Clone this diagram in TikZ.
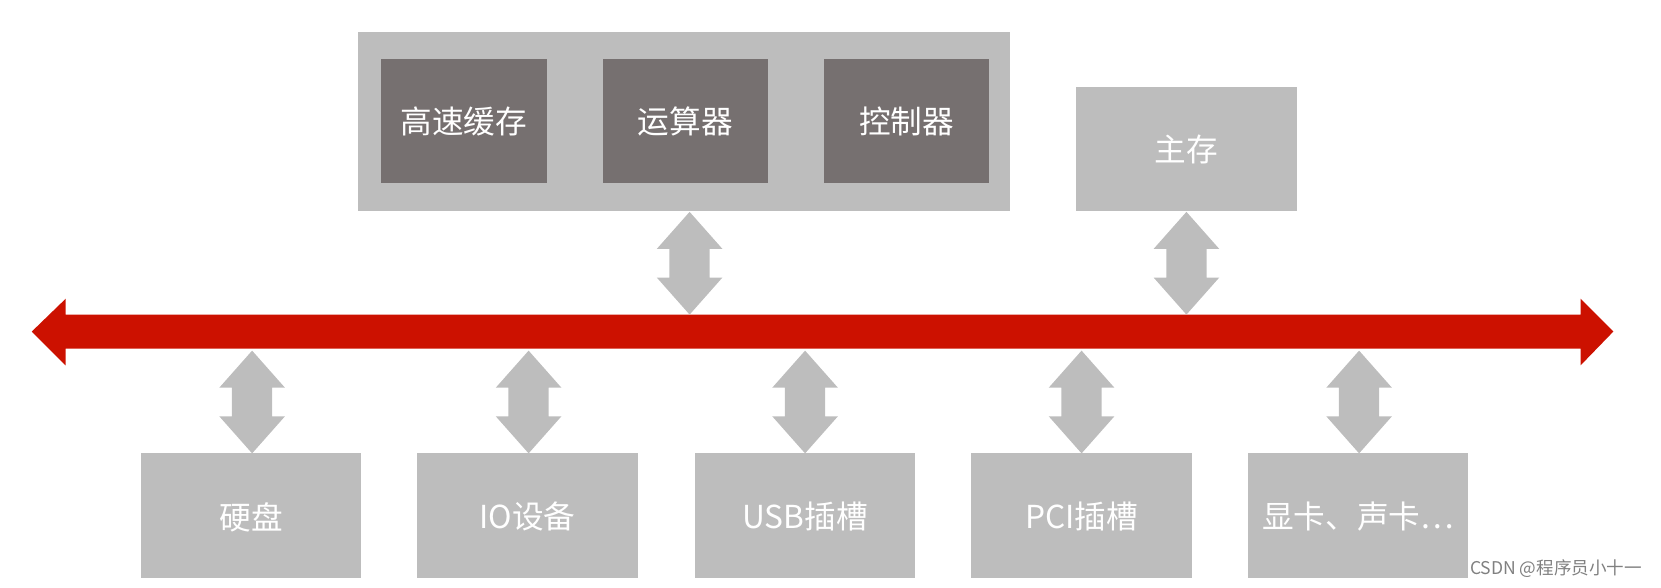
\documentclass[tikz,border=0pt]{standalone}
\usepackage{fontspec}
\setmainfont{Noto Sans CJK SC}
\begin{document}
\begin{tikzpicture}[x=0.021186cm,y=-0.021186cm,
  lg/.style={fill=boxgray,draw=none},
  dg/.style={fill=darkgray2,draw=none},
  txt/.style={text=white,font=\fontsize{18}{21}\selectfont},
  dbl/.pic={\fill[boxgray] (0,0) -- (31,35) -- (19,35) -- (19,62) -- (31,62) -- (0,97) -- (-31,62) -- (-19,62) -- (-19,35) -- (-31,35) -- cycle;}]
\definecolor{boxgray}{HTML}{BDBDBD}
\definecolor{darkgray2}{HTML}{767070}
\definecolor{busred}{HTML}{CC1100}
% CPU
\fill[lg] (338,30) rectangle (953,199);
\foreach \x/\t/\n in {360/高速缓存/c1,569/运算器/c2,778/控制器/c3}{
  \fill[dg] (\x,56) rectangle (\x+156,173);
  \node[txt] (\n) at (\x+78,115) {\t};
}
\fill[lg] (1016,82) rectangle (1224,199);
\node[txt] (mem) at (1120,141) {主存};
% bus
\fill[busred] (30,313) -- (62,282) -- (62,297) -- (1492,297) -- (1492,282) -- (1523,313) -- (1492,345) -- (1492,329) -- (62,329) -- (62,345) -- cycle;
% arrows
\pic at (651,200) {dbl};
\pic at (1120,200) {dbl};
\foreach \x in {238,499,760,1021,1283}{ \pic at (\x,331) {dbl}; }
% bottom boxes
\foreach \x/\t/\n in {133/硬盘/b1,394/IO设备/b2,656/USB插槽/b3,917/PCI插槽/b4,1178/显卡、声卡…/b5}{
  \fill[lg] (\x,428) rectangle (\x+208,546);
  \node[txt] (\n) at (\x+104,488) {\t};
}
\node[text=gray,font=\fontsize{10}{11}\selectfont,anchor=east] (wm) at (1556,537) {CSDN @程序员小十一};
\pgfresetboundingbox
\useasboundingbox (0,0) rectangle (1568,555);
\end{tikzpicture}
\end{document}
